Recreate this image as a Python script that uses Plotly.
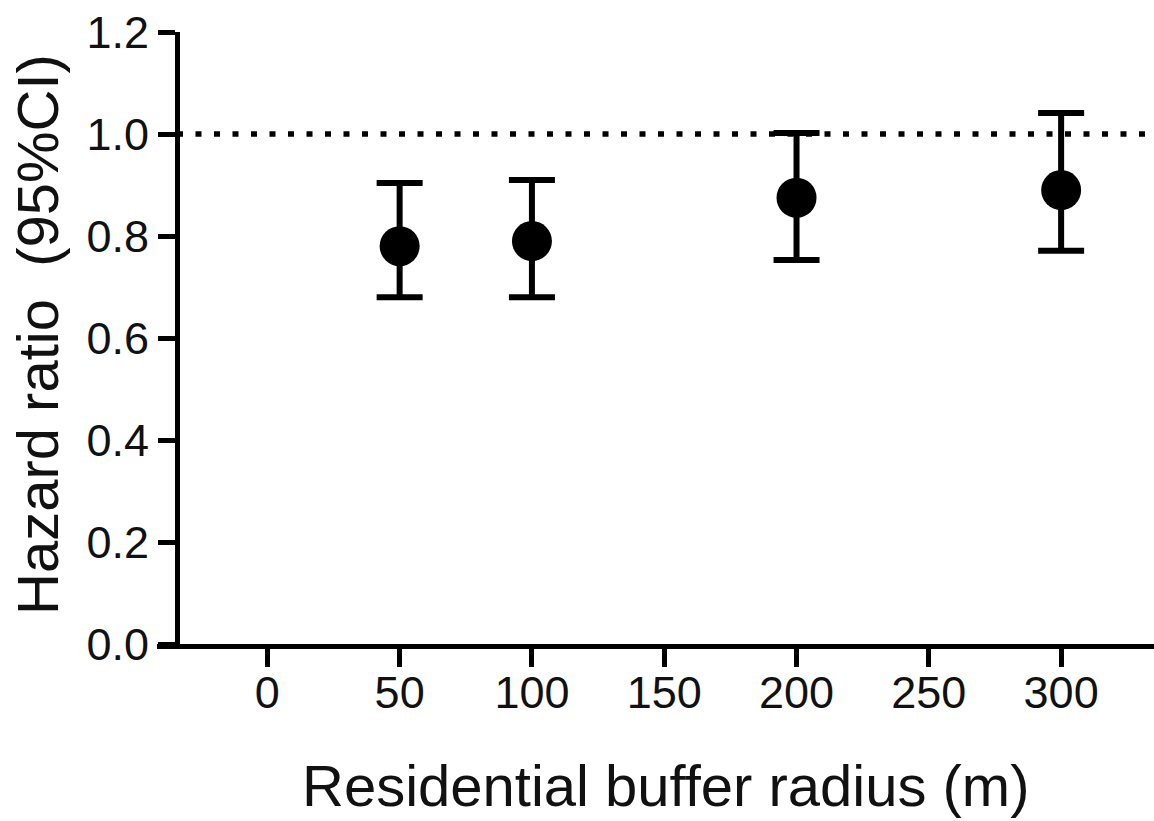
import plotly.graph_objects as go

# Data
radius_m = [50, 100, 200, 300]
hazard_ratio = [0.78, 0.79, 0.875, 0.89]
ci_lower = [0.68, 0.68, 0.753, 0.771]
ci_upper = [0.904, 0.910, 1.002, 1.041]
x_ticks = [0, 50, 100, 150, 200, 250, 300]
y_ticks = [0.0, 0.2, 0.4, 0.6, 0.8, 1.0, 1.2]
ref_hr = 1.0

err_plus = [u - h for u, h in zip(ci_upper, hazard_ratio)]
err_minus = [h - l for h, l in zip(hazard_ratio, ci_lower)]

FONT = "Liberation Sans, Arial, Helvetica, sans-serif"
W, H = 1154, 821
ML, MR, MT, MB = 157, 0, 32, 177
PW = W - ML - MR
yaxis_pos = (177 - ML) / PW

fig = go.Figure()
fig.add_trace(go.Scatter(
    x=radius_m, y=hazard_ratio, mode="markers",
    marker=dict(size=40, color="black", line=dict(width=0)),
    error_y=dict(type="data", symmetric=False, array=err_plus, arrayminus=err_minus,
                 color="black", thickness=6, width=23),
    showlegend=False, cliponaxis=False,
))

fig.add_shape(type="line", xref="paper", yref="y", x0=yaxis_pos, x1=0.998,
              y0=ref_hr, y1=ref_hr, line=dict(color="black", width=5.5, dash="6px,12.5px"),
              layer="below")

fig.update_layout(
    width=W, height=H,
    margin=dict(l=ML, r=MR, t=MT, b=MB, pad=0),
    paper_bgcolor="white", plot_bgcolor="white",
    font=dict(family=FONT, color="#111111"),
    xaxis=dict(range=[-41.7, 335.1], tickvals=x_ticks, ticktext=[str(v) for v in x_ticks],
               showline=True, linecolor="black", linewidth=5, ticks="outside",
               ticklen=18, tickwidth=5, tickcolor="black", showgrid=False, zeroline=False,
               ticklabelstandoff=-13,
               tickfont=dict(size=45, family=FONT, color="#111111"), fixedrange=True),
    yaxis=dict(range=[0, 1.2], tickvals=y_ticks, tickformat=".1f",
               anchor="free", position=yaxis_pos,
               showline=True, linecolor="black", linewidth=5, ticks="outside",
               ticklen=17, tickwidth=5, tickcolor="black", showgrid=False, zeroline=False,
               tickfont=dict(size=45, family=FONT, color="#111111"), fixedrange=True),
    annotations=[
        dict(text="Residential buffer radius (m)", xref="paper", yref="paper",
             x=(665 - ML) / PW, y=-(785 - 644) / (644 - MT),
             xanchor="center", yanchor="middle", showarrow=False,
             font=dict(size=58, family=FONT, color="#111111")),
        dict(text="Hazard ratio\u00a0 (95%CI)", xref="paper", yref="paper",
             x=-(157 - 37) / PW, y=(644 - 335) / (644 - MT),
             xanchor="center", yanchor="middle", textangle=-90, showarrow=False,
             font=dict(size=58, family=FONT, color="#111111")),
    ],
)

fig.write_html("out.html")
